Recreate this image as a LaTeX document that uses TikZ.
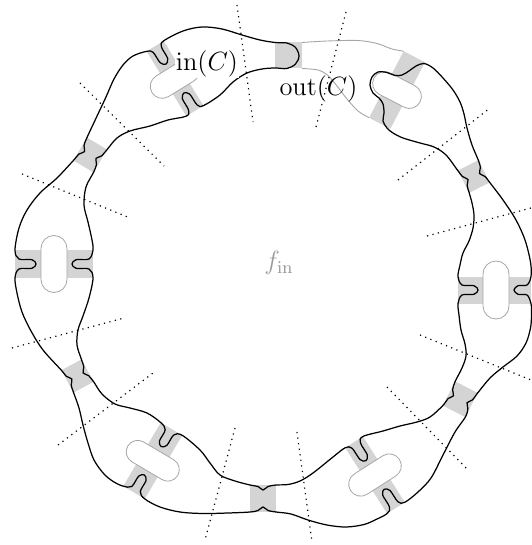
\documentclass[tikz,border=0pt]{standalone}
\tikzset{
  bandfill/.style={fill=black!17},
  stadline/.style={draw=black!35, line width=0.4pt},
  ringline/.style={draw=black, line width=0.62pt},
  outgray/.style={draw=black!35, line width=0.45pt},
  radial/.style={draw=black, line width=0.6pt, dash pattern=on 0.6pt off 2.2pt},
  lab/.style={font=\fontsize{12}{14}\selectfont, scale=1.1, inner sep=0.5pt},
}
% stadium gadget: name, cx, cy, rotation, half width h, outer dist, inner dist, radius r, half length L
\newcommand\stadgadget[9]{%
  \begin{scope}[shift={(#2,#3)},rotate=#4]
    \fill[bandfill] (-#5,-#6) -- (#5,-#6) -- (#5,#7) -- (-#5,#7) -- cycle;
    \draw[stadline,fill=white] (-#9+#8,-#8) -- (#9-#8,-#8)
      arc[start angle=-90,end angle=90,radius=#8] -- (-#9+#8,#8)
      arc[start angle=90,end angle=270,radius=#8] -- cycle;
    \pgfmathsetmacro\stadyt{#8+5}
    \coordinate (#1o1) at (#5,-#6);
    \coordinate (#1o2) at (5,-#6+4);
    \coordinate (#1o3) at (4.3,-\stadyt-4);
    \coordinate (#1o4) at (0,-\stadyt);
    \coordinate (#1o5) at (-4.3,-\stadyt-4);
    \coordinate (#1o6) at (-5,-#6+4);
    \coordinate (#1o7) at (-#5,-#6);
    \coordinate (#1i1) at (-#5,#7);
    \coordinate (#1i2) at (-5,#7-4);
    \coordinate (#1i3) at (-4.3,\stadyt+4);
    \coordinate (#1i4) at (0,\stadyt);
    \coordinate (#1i5) at (4.3,\stadyt+4);
    \coordinate (#1i6) at (5,#7-4);
    \coordinate (#1i7) at (#5,#7);
  \end{scope}}
% pinch gadget: name, cx, cy, rotation, half width h, outer dist, inner dist
\newcommand\pinchgadget[7]{%
  \begin{scope}[shift={(#2,#3)},rotate=#4]
    \fill[bandfill] (-#5,-#6) -- (#5,-#6) -- (#5,#7) -- (-#5,#7) -- cycle;
    \coordinate (#1o1) at (#5,-#6);
    \coordinate (#1o2) at (5,-#6+1.5);
    \coordinate (#1o3) at (0,-#6+5);
    \coordinate (#1o4) at (-5,-#6+1.5);
    \coordinate (#1o5) at (-#5,-#6);
    \coordinate (#1i1) at (-#5,#7);
    \coordinate (#1i2) at (-5,#7-1.5);
    \coordinate (#1i3) at (0,#7-5);
    \coordinate (#1i4) at (5,#7-1.5);
    \coordinate (#1i5) at (#5,#7);
  \end{scope}}
\begin{document}
\begin{tikzpicture}[x=0.5pt,y=-0.5pt]
\useasboundingbox (0,0) rectangle (531,545);
% gadgets
\fill[bandfill] (275,42) rectangle (302,68.5);
\stadgadget{S1}{397}{90}{-27.4}{12}{37.5}{37.5}{12}{26}
\pinchgadget{P2}{473.75}{176.5}{-62.9}{12.5}{11.5}{11.5}
\stadgadget{S2}{496}{290}{-90}{13.5}{35}{38}{13}{29}
\pinchgadget{P3}{460.25}{399.25}{-117.1}{13.6}{12.65}{12.65}
\stadgadget{S3}{375}{475}{-147.5}{10.5}{39}{39}{12}{29}
\pinchgadget{P4}{263}{498.5}{-180}{13}{13.5}{13.5}
\stadgadget{S4}{152.75}{460.75}{-210.6}{12.5}{36.9}{36.9}{11.5}{29}
\pinchgadget{P5}{77.5}{376}{-241.4}{12.75}{11.4}{11.4}
\stadgadget{S5}{54}{264}{90}{14}{39}{39}{13}{28.5}
\pinchgadget{P6}{90.25}{155}{59.3}{13.3}{11.7}{11.7}
\stadgadget{S6}{175}{78.5}{31.6}{10}{38}{38}{12}{27}
% gray part of the boundary (out(C))
\draw[outgray] plot[smooth] coordinates {(302,42.5) (327,41) (358,40.5) (377,43.5) (392,49) (S1o7)};
\draw[outgray] plot[smooth] coordinates {(302,68.5) (318,70) (328,75.5) (337,86) (347,99) (358,111) (S1i1)};
% black boundary
\draw[ringline] plot[smooth cycle, tension=0.55] coordinates {
 (275,68) (287,68.5) (295.5,64) (299,56) (295.5,47.5) (287,43) (275,42.5)
 (260,40) (242,35) (222,29) (202,27) (183,31)
 (S6o1) (S6o2) (S6o3) (S6o4) (S6o5) (S6o6) (S6o7)
 (133,56) (123,65) (114,79) (106,97) (98,114)
 (P6o1) (P6o2) (P6o3) (P6o4) (P6o5)
 (57,178) (40,193) (27,210) (19,228)
 (S5o1) (S5o2) (S5o3) (S5o4) (S5o5) (S5o6) (S5o7)
 (17,293) (22,312) (31,331) (43,350)
 (P5o1) (P5o2) (P5o3) (P5o4) (P5o5)
 (79,408) (83,425) (88,443) (94,460) (104,474) (114,482)
 (S4o1) (S4o2) (S4o3) (S4o4) (S4o5) (S4o6) (S4o7)
 (160,507) (180,512) (203,513.5) (228,513)
 (P4o1) (P4o2) (P4o3) (P4o4) (P4o5)
 (291,514) (308,520) (327,525) (346,527) (364,524.5) (376,519.5)
 (S3o1) (S3o2) (S3o3) (S3o4) (S3o5) (S3o6) (S3o7)
 (418,492) (431,478) (443,455) (455,432)
 (P3o1) (P3o2) (P3o3) (P3o4) (P3o5)
 (490,378) (503,367) (517,356) (526,343) (530.5,328) (531.5,315)
 (S2o1) (S2o2) (S2o3) (S2o4) (S2o5) (S2o6) (S2o7)
 (530.5,262) (525,240) (516,220) (503,200)
 (P2o1) (P2o2) (P2o3) (P2o4) (P2o5)
 (472,145) (467,128) (464,114) (460,102) (453,90) (443,78) (433,68) (424,63.5)
 (416,66) (409,71) (402,75) (395,75.5) (387,72.5) (378,72) (372,77) (370,85)
 (373,93) (379,98) (383,104) (384,113) (383,121) (387,128) (393,133)
 (403,138) (420,143) (434,147) (446,155)
 (P2i1) (P2i2) (P2i3) (P2i4) (P2i5)
 (472,203) (474,215) (473,228) (469,241) (463,253) (460,265)
 (S2i1) (S2i2) (S2i3) (S2i4) (S2i5) (S2i6) (S2i7)
 (459,315) (461,330) (465,344) (466,356) (462,368)
 (P3i1) (P3i2) (P3i3) (P3i4) (P3i5)
 (430,417) (417,422) (400,426) (383,431)
 (S3i1) (S3i2) (S3i3) (S3i4) (S3i5) (S3i6) (S3i7)
 (333,457) (313,473) (300,481) (288,484.5)
 (P4i1) (P4i2) (P4i3) (P4i4) (P4i5)
 (235,481) (220,475) (210,463) (200,450)
 (S4i1) (S4i2) (S4i3) (S4i4) (S4i5) (S4i6) (S4i7)
 (147,413) (130,408) (115,404) (102,394)
 (P5i1) (P5i2) (P5i3) (P5i4) (P5i5)
 (77,345) (78,330) (83,316) (89,298)
 (S5i1) (S5i2) (S5i3) (S5i4) (S5i5) (S5i6) (S5i7)
 (92,240) (88,222) (84,205) (86,187)
 (P6i1) (P6i2) (P6i3) (P6i4) (P6i5)
 (117,138) (130,131) (150,126) (168,120)
 (S6i1) (S6i2) (S6i3) (S6i4) (S6i5) (S6i6) (S6i7)
 (220,95) (233,82) (247,73) (262,69)
};
% dotted radial separators
\draw[radial] (237,5) -- (253,122);
\draw[radial] (346,12) -- (316,127);
\draw[radial] (80,83) -- (164,166);
\draw[radial] (22,174) -- (130,218);
\draw[radial] (12,348) -- (124,318);
\draw[radial] (58,445) -- (153,373);
\draw[radial] (235,428) -- (205,540);
\draw[radial] (297,432) -- (312,542);
\draw[radial] (387,387) -- (468,470);
\draw[radial] (420,335) -- (531,380);
\draw[radial] (427,236) -- (531,208);
\draw[radial] (398,180) -- (490,108);
% labels
\node[lab, fill=white] (inC) at (207,64) {$\mathrm{in}(C)$};
\node[lab] (outC) at (318.5,88.5) {$\mathrm{out}(C)$};
\node[lab, text=black!40] (fin) at (279,263) {$f_{\mathrm{in}}$};
\end{tikzpicture}
\end{document}
